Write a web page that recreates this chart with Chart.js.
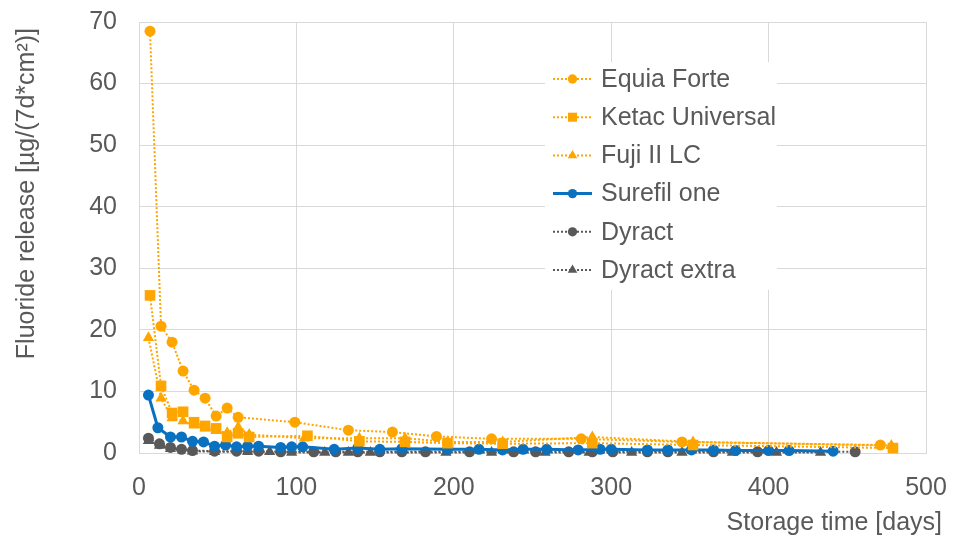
<!DOCTYPE html>
<html>
<head>
<meta charset="utf-8">
<script src="https://cdn.jsdelivr.net/npm/chart.js@4/dist/chart.umd.min.js"></script>
<style>
  html, body { margin: 0; padding: 0; background: #ffffff; }
  #wrap { width: 955px; height: 538px; }
</style>
</head>
<body>
<div id="wrap"><canvas id="c" width="955" height="538"></canvas></div>
<script>
// ---- Data ----
const seriesNames = ['Equia Forte', 'Ketac Universal', 'Fuji II LC', 'Surefil one', 'Dyract', 'Dyract extra'];

const equiaDays = [7, 14, 21, 28, 35, 42, 49, 56, 63, 99, 133, 161, 189, 224, 281, 345, 471];
const equiaVals = [68.5, 20.6, 18.0, 13.3, 10.2, 8.9, 6.0, 7.3, 5.8, 5.0, 3.7, 3.4, 2.7, 2.3, 2.3, 1.8, 1.3];

const ketacDays = [7, 14, 21, 28, 35, 42, 49, 56, 63, 70, 107, 140, 169, 196, 231, 288, 352, 479];
const ketacVals = [25.6, 10.9, 6.5, 6.7, 5.0, 4.4, 4.0, 2.6, 3.2, 2.6, 2.8, 1.9, 1.8, 1.6, 1.5, 1.6, 1.3, 0.8];

const fujiDays = [6, 14, 21, 28, 35, 42, 49, 56, 63, 70, 105, 140, 169, 196, 231, 288, 352, 478];
const fujiVals = [18.7, 8.9, 5.7, 5.2, 4.5, 4.0, 3.6, 3.3, 4.2, 3.0, 2.4, 2.4, 2.4, 1.8, 1.8, 2.6, 1.8, 1.2];

const surefilDays = [6, 12, 20, 27, 34, 41, 48, 55, 62, 69, 76, 90, 97, 104, 124, 139, 153, 167, 196, 216, 231, 244, 259, 279, 293, 300, 323, 336, 351, 365, 379, 400, 413, 441];
const surefilVals = [9.4, 4.1, 2.6, 2.6, 1.9, 1.8, 1.1, 1.3, 1.0, 1.1, 1.1, 0.9, 1.0, 1.0, 0.6, 0.8, 0.6, 0.7, 0.6, 0.6, 0.5, 0.6, 0.6, 0.5, 0.6, 0.6, 0.5, 0.5, 0.5, 0.5, 0.4, 0.4, 0.4, 0.3];

const dyractDays = [6, 13, 20, 27, 34, 48, 62, 76, 90, 111, 125, 139, 153, 167, 182, 210, 238, 252, 273, 288, 301, 323, 336, 365, 393, 455];
const dyractVals = [2.4, 1.5, 0.9, 0.6, 0.4, 0.3, 0.3, 0.3, 0.2, 0.2, 0.2, 0.2, 0.2, 0.2, 0.2, 0.2, 0.2, 0.2, 0.2, 0.2, 0.2, 0.2, 0.2, 0.2, 0.2, 0.2];

const dyractExtraDays = [6, 13, 20, 34, 48, 69, 83, 97, 118, 133, 147, 195, 224, 258, 286, 313, 345, 377, 405, 433];
const dyractExtraVals = [2.0, 1.2, 0.7, 0.3, 0.2, 0.2, 0.2, 0.1, 0.1, 0.1, 0.1, 0.1, 0.1, 0.1, 0.1, 0.1, 0.1, 0.1, 0.1, 0.1];

const xTicks = [0, 100, 200, 300, 400, 500];
const yTicks = [0, 10, 20, 30, 40, 50, 60, 70];
const xTitle = 'Storage time [days]';
const yTitle = 'Fluoride release [µg/(7d*cm²)]';

// ---- Styling ----
const ORANGE = '#FFA500';
const BLUE = '#0A70C0';
const GRAY = '#595959';
const TEXT = '#595959';
const GRID = '#D9D9D9';
const FONT = 'Liberation Sans, Arial, sans-serif';

function pts(days, vals) { return days.map((d, i) => ({ x: d, y: vals[i] })); }

const styles = [
  { color: ORANGE, pointStyle: 'circle', radius: 5.5, dash: [2, 2], width: 2 },
  { color: ORANGE, pointStyle: 'rect', radius: 7.5, dash: [2, 2], width: 2 },
  { color: ORANGE, pointStyle: 'triangle', radius: 6.5, dash: [2, 2], width: 2 },
  { color: BLUE, pointStyle: 'circle', radius: 5.5, dash: [], width: 3 },
  { color: GRAY, pointStyle: 'circle', radius: 5.5, dash: [2, 2], width: 2 },
  { color: GRAY, pointStyle: 'triangle', radius: 6.5, dash: [2, 2], width: 2 }
];
const dataSets = [
  pts(equiaDays, equiaVals),
  pts(ketacDays, ketacVals),
  pts(fujiDays, fujiVals),
  pts(surefilDays, surefilVals),
  pts(dyractDays, dyractVals),
  pts(dyractExtraDays, dyractExtraVals)
];

const datasets = seriesNames.map((name, i) => ({
  label: name,
  data: dataSets[i],
  borderColor: styles[i].color,
  backgroundColor: styles[i].color,
  pointBackgroundColor: styles[i].color,
  pointBorderColor: styles[i].color,
  pointBorderWidth: 0,
  pointStyle: styles[i].pointStyle,
  pointRadius: styles[i].radius,
  borderWidth: styles[i].width,
  borderDash: styles[i].dash,
  tension: 0,
  fill: false,
  clip: false
}));

const overlay = {
  id: 'overlay',
  afterDatasetsDraw(chart) {
    const ctx = chart.ctx;
    // legend box
    ctx.save();
    ctx.fillStyle = '#ffffff';
    ctx.fillRect(545, 62, 232, 228);
    const rowY0 = 79, rowGap = 38.2;
    ctx.font = '25px ' + FONT;
    ctx.textBaseline = 'middle';
    ctx.textAlign = 'left';
    seriesNames.forEach((name, i) => {
      const y = rowY0 + i * rowGap;
      const s = styles[i];
      ctx.save();
      ctx.strokeStyle = s.color;
      ctx.lineWidth = s.width;
      ctx.setLineDash(s.dash);
      ctx.beginPath();
      ctx.moveTo(553, y);
      ctx.lineTo(592, y);
      ctx.stroke();
      ctx.restore();
      ctx.save();
      ctx.fillStyle = s.color;
      ctx.strokeStyle = s.color;
      Chart.helpers.drawPoint(ctx, { pointStyle: s.pointStyle, radius: s.radius * 0.85, rotation: 0, borderWidth: 0 }, 572.5, y);
      ctx.restore();
      ctx.fillStyle = TEXT;
      ctx.fillText(name, 601, y + 1);
    });
    ctx.restore();
  },
  afterDraw(chart) {
    const ctx = chart.ctx;
    ctx.save();
    ctx.fillStyle = TEXT;
    ctx.font = '25px ' + FONT;
    ctx.textBaseline = 'middle';
    ctx.textAlign = 'right';
    ctx.fillText(xTitle, 942, 523);
    ctx.translate(27, 28);
    ctx.rotate(-Math.PI / 2);
    ctx.textAlign = 'right';
    ctx.fillText(yTitle, 0, 0);
    ctx.restore();
  }
};

new Chart(document.getElementById('c'), {
  type: 'line',
  data: { datasets },
  options: {
    responsive: false,
    animation: false,
    events: [],
    layout: { padding: { top: 22, right: 29, left: 0, bottom: 0 } },
    scales: {
      x: {
        type: 'linear',
        min: 0, max: 500,
        afterBuildTicks: (s) => { s.ticks = xTicks.map(v => ({ value: v })); },
        afterFit: (s) => { s.height = 85; s.paddingLeft = 0; s.paddingRight = 0; },
        grid: { color: GRID, lineWidth: 1, drawTicks: false },
        border: { color: GRID, width: 1 },
        ticks: { color: TEXT, font: { family: FONT, size: 25 }, padding: 20, maxRotation: 0 }
      },
      y: {
        type: 'linear',
        min: 0, max: 70,
        afterBuildTicks: (s) => { s.ticks = yTicks.map(v => ({ value: v })); },
        afterFit: (s) => { s.width = 139; s.paddingTop = 0; s.paddingBottom = 0; },
        grid: { color: GRID, lineWidth: 1, drawTicks: false },
        border: { color: GRID, width: 1 },
        ticks: { color: TEXT, font: { family: FONT, size: 25 }, padding: 22 }
      }
    },
    plugins: {
      legend: { display: false },
      tooltip: { enabled: false }
    }
  },
  plugins: [overlay]
});
</script>
</body>
</html>
